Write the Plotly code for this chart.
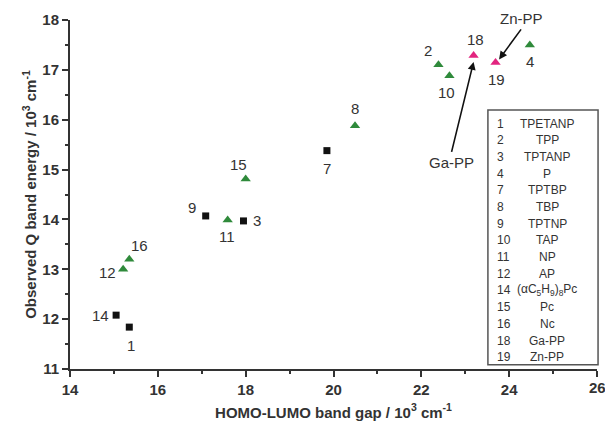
import plotly.graph_objects as go

# Compound data: id, HOMO-LUMO gap (10^3 cm^-1), observed Q band energy (10^3 cm^-1)
sq_ids = ["1", "3", "7", "9", "14"]
sq_gap = [15.35, 17.95, 19.85, 17.09, 15.05]
sq_q = [11.84, 13.97, 15.38, 14.07, 12.08]

gr_ids = ["2", "4", "8", "10", "11", "12", "15", "16"]
gr_gap = [22.39, 24.47, 20.49, 22.64, 17.59, 15.21, 18.00, 15.35]
gr_q = [17.10, 17.50, 15.88, 16.88, 13.99, 13.00, 14.81, 13.20]

pk_ids = ["18", "19"]
pk_gap = [23.19, 23.69]
pk_q = [17.29, 17.15]

x_ticks = [14, 16, 18, 20, 22, 24, 26]
y_ticks = [11, 12, 13, 14, 15, 16, 17, 18]

# Key table entries
key_ids = ["1", "2", "3", "4", "7", "8", "9", "10", "11", "12", "14", "15", "16", "18", "19"]
key_names = ["TPETANP", "TPP", "TPTANP", "P", "TPTBP", "TBP", "TPTNP", "TAP", "NP", "AP",
             "(αC<sub>5</sub>H<sub>9</sub>)<sub>8</sub>Pc", "Pc", "Nc", "Ga-PP", "Zn-PP"]

# label offsets (pixels) for each point id
label_shift = {
    "1": (2, -18), "3": (14, 0), "7": (0, -18), "9": (-14, 8), "14": (-16, 0),
    "2": (-10, 14), "4": (0, -17), "8": (0, 17), "10": (-3, -17), "11": (-1, -17),
    "12": (-16, -3), "15": (-7, 15), "16": (10, 14), "18": (2, 16), "19": (1, -17),
}

FONT = "Liberation Sans, Arial, sans-serif"
GREEN = "#2f8a3b"
PINK = "#e2247f"
INK = "#333333"

fig = go.Figure()
fig.add_trace(go.Scatter(x=sq_gap, y=sq_q, mode="markers",
                         marker=dict(symbol="square", size=7, color="#111111")))
fig.add_trace(go.Scatter(x=gr_gap, y=gr_q, mode="markers",
                         marker=dict(symbol="triangle-up", size=9, color=GREEN)))
fig.add_trace(go.Scatter(x=pk_gap, y=pk_q, mode="markers",
                         marker=dict(symbol="triangle-up", size=9, color=PINK)))

ann = []
for ids, xs, ys in [(sq_ids, sq_gap, sq_q), (gr_ids, gr_gap, gr_q), (pk_ids, pk_gap, pk_q)]:
    for i, x, y in zip(ids, xs, ys):
        dx, dy = label_shift[i]
        ann.append(dict(x=x, y=y, text=i, showarrow=False, xshift=dx, yshift=dy,
                        xanchor="center", yanchor="middle",
                        font=dict(family=FONT, size=15, color=INK)))

# Arrows pointing to the two metal complexes
ann.append(dict(x=pk_gap[0], y=pk_q[0] - 0.13, ax=-22, ay=90, text="Ga-PP",
                showarrow=True, arrowhead=2, arrowsize=1, arrowwidth=1.6, arrowcolor="#111111",
                standoff=0, font=dict(family=FONT, size=15, color=INK),
                yanchor="top"))
ann.append(dict(x=pk_gap[1] + 0.08, y=pk_q[1] + 0.06, ax=22, ay=-30, text="Zn-PP",
                showarrow=True, arrowhead=2, arrowsize=1, arrowwidth=1.6, arrowcolor="#111111",
                standoff=0, font=dict(family=FONT, size=15, color=INK),
                yanchor="bottom"))

# Last x tick label sits on the page edge, so draw it as free text
ann.append(dict(x=x_ticks[-1], y=0, xref="x", yref="paper", text="<b>%d</b>" % x_ticks[-1],
                showarrow=False, xanchor="center", yanchor="top", yshift=-8,
                font=dict(family=FONT, size=15, color=INK)))

# Key table box
box_x0, box_x1, box_y0, box_y1 = 0.793, 1.002, 0.012, 0.742
row_top, row_step = 0.703, 0.0478
for k, (i, n) in enumerate(zip(key_ids, key_names)):
    yy = row_top - k * row_step
    ann.append(dict(x=0.806, y=yy, xref="paper", yref="paper", text=i, showarrow=False,
                    xanchor="left", yanchor="middle",
                    font=dict(family=FONT, size=12, color=INK)))
    ann.append(dict(x=0.906, y=yy, xref="paper", yref="paper", text=n, showarrow=False,
                    xanchor="center", yanchor="middle",
                    font=dict(family=FONT, size=12, color=INK)))

fig.update_layout(
    width=605, height=429,
    margin=dict(l=70, r=8, t=20, b=60, autoexpand=False),
    paper_bgcolor="white", plot_bgcolor="white",
    showlegend=False,
    annotations=ann,
    shapes=[dict(type="rect", xref="paper", yref="paper", x0=box_x0, x1=box_x1,
                 y0=box_y0, y1=box_y1, line=dict(color="#555555", width=1.5))],
    font=dict(family=FONT, color=INK),
)

fig.update_xaxes(range=[14, 26], tickmode="array", tickvals=x_ticks,
                 ticktext=["<b>%d</b>" % v for v in x_ticks[:-1]] + [""],
                 ticks="outside", ticklen=6, tickwidth=1.5, tickcolor=INK,
                 minor=dict(tickvals=[15, 17, 19, 21, 23, 25], ticks="outside", ticklen=3,
                            tickcolor=INK),
                 showline=True, linecolor=INK, linewidth=2, showgrid=False, zeroline=False,
                 tickfont=dict(size=15, color=INK),
                 title=dict(text="<b>HOMO-LUMO band gap / 10<sup>3</sup> cm<sup>-1</sup></b>",
                            font=dict(size=15, color=INK), standoff=10))
fig.update_yaxes(range=[11, 18], tickmode="array", tickvals=y_ticks,
                 ticktext=["<b>%d</b>" % v for v in y_ticks],
                 ticks="outside", ticklen=6, tickwidth=1.5, tickcolor=INK,
                 minor=dict(tickvals=[11.5 + k for k in range(7)], ticks="outside", ticklen=3,
                            tickcolor=INK),
                 showline=True, linecolor=INK, linewidth=2, showgrid=False, zeroline=False,
                 tickfont=dict(size=15, color=INK),
                 title=dict(text="<b>Observed Q band energy / 10<sup>3</sup> cm<sup>-1</sup></b>",
                            font=dict(size=15, color=INK), standoff=2))

fig.write_html("out.html")
